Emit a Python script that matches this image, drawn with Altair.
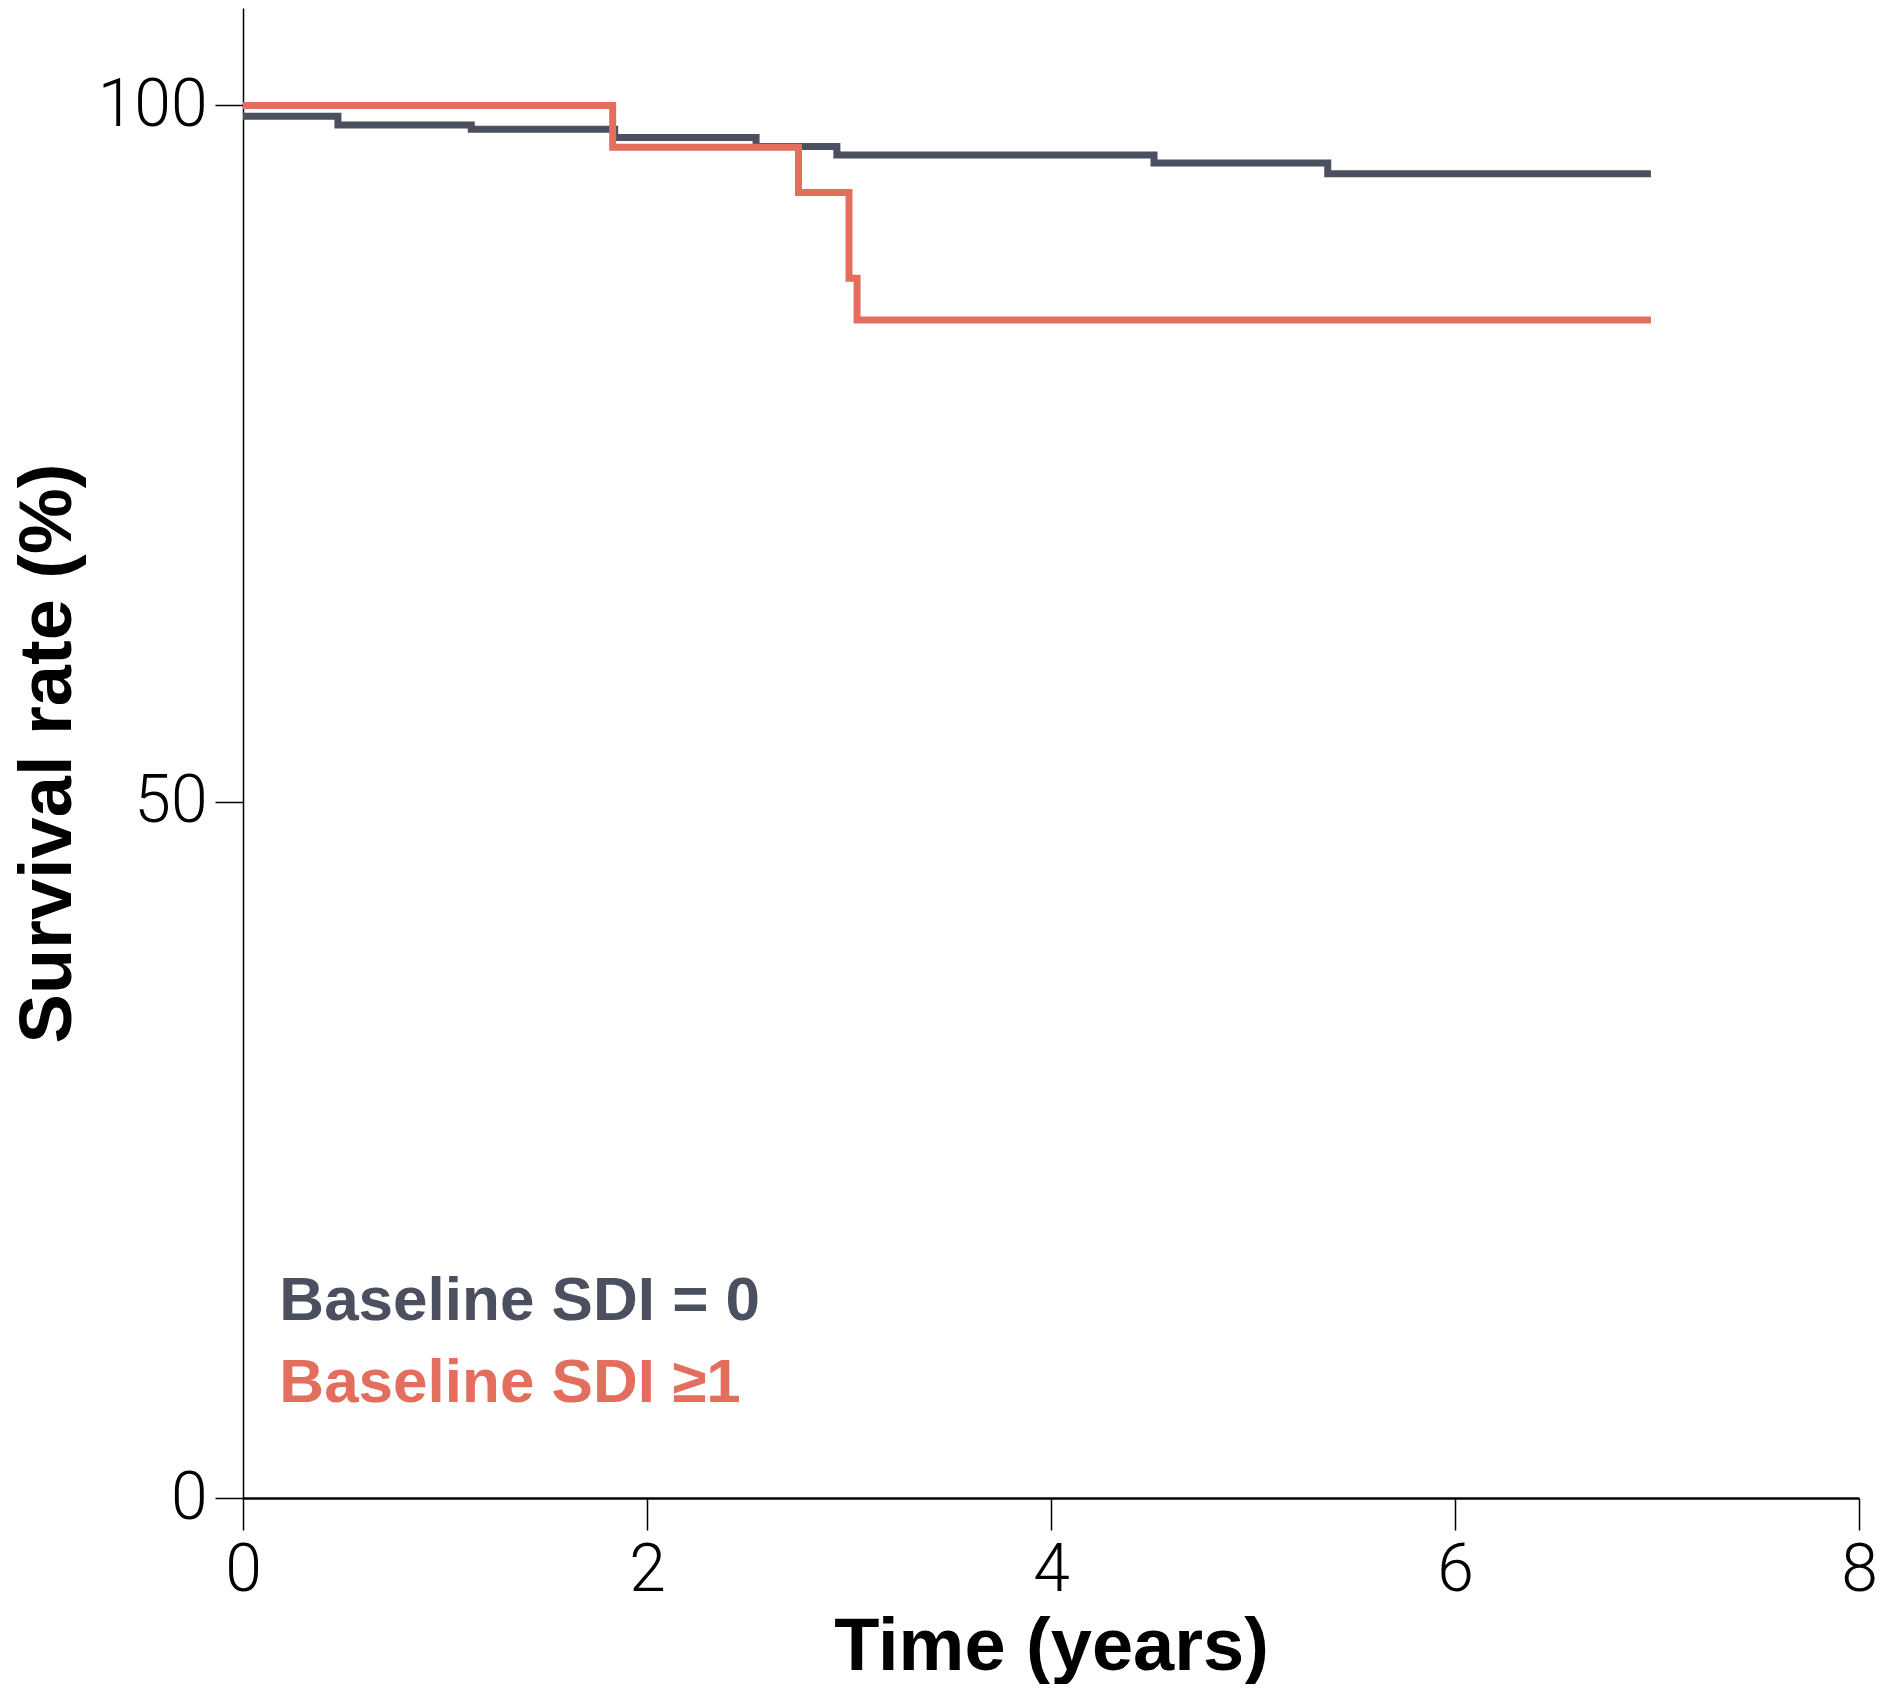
import altair as alt
import pandas as pd

# Kaplan-Meier style step curves (time in years, survival %)
sdi0_time = [0, 0.47, 1.13, 1.84, 2.54, 2.94, 4.51, 5.37, 6.97]
sdi0_surv = [99.23, 98.6, 98.3, 97.7, 97.06, 96.45, 95.87, 95.1, 95.1]
sdi1_time = [0, 1.83, 2.75, 3.0, 3.04, 6.97]
sdi1_surv = [100, 97.0, 93.75, 87.6, 84.6, 84.6]

groups = ["Baseline SDI = 0", "Baseline SDI \u22651"]
colors = ["#4b4f60", "#e46e5e"]

legend_x = [0.18, 0.18]
legend_y = [12.8, 6.9]

x_ticks = [0, 2, 4, 6, 8]
y_ticks = [0, 50, 100]

rows = []
for t, s in zip(sdi0_time, sdi0_surv):
    rows.append({"time": t, "surv": s, "group": groups[0]})
for t, s in zip(sdi1_time, sdi1_surv):
    rows.append({"time": t, "surv": s, "group": groups[1]})
df = pd.DataFrame(rows)

lab = pd.DataFrame({"x": legend_x, "y": legend_y, "label": groups})

FONT = "Liberation Sans, Arial, sans-serif"

xscale = alt.Scale(domain=[0, 8], nice=False)
yscale = alt.Scale(domain=[0, 107], nice=False)
cscale = alt.Scale(domain=groups, range=colors)

lines = alt.Chart(df).mark_line(
    interpolate="step-after", strokeWidth=7, strokeJoin="miter", strokeCap="butt"
).encode(
    x=alt.X("time:Q", scale=xscale,
            axis=alt.Axis(values=x_ticks, format="d", title="Time (years)", grid=False,
                          domainColor="black", domainWidth=2.5,
                          tickColor="black", tickWidth=1.5, tickSize=32,
                          labelFont="Roboto", labelFontWeight=300, labelFontSize=66,
                          labelColor="black", labelPadding=8, labelFlush=False,
                          titleFont=FONT, titleFontSize=74, titleFontWeight="bold",
                          titleColor="black", titlePadding=8)),
    y=alt.Y("surv:Q", scale=yscale,
            axis=alt.Axis(values=y_ticks, format="d", title="Survival rate (%)", grid=False,
                          domainColor="black", domainWidth=1.5,
                          tickColor="black", tickWidth=1.5, tickSize=28,
                          labelFont="Roboto", labelFontWeight=300, labelFontSize=66,
                          labelColor="black", labelPadding=8,
                          titleFont=FONT, titleFontSize=74, titleFontWeight="bold",
                          titleColor="black", titlePadding=11)),
    color=alt.Color("group:N", scale=cscale, legend=None),
    order=alt.Order("time:Q"),
)

texts = alt.Chart(lab).mark_text(
    align="left", baseline="alphabetic", font=FONT, fontSize=62, fontWeight="bold"
).encode(
    x=alt.X("x:Q", scale=xscale),
    y=alt.Y("y:Q", scale=yscale),
    text="label:N",
    color=alt.Color("label:N", scale=cscale, legend=None),
)

chart = alt.layer(lines, texts).properties(
    width=1616, height=1490,
    padding={"left": 3, "top": 0, "right": 0, "bottom": 0},
    background="white"
).configure_view(stroke=None)

chart.save("out.html", embed_options={"renderer": "svg", "actions": False})
